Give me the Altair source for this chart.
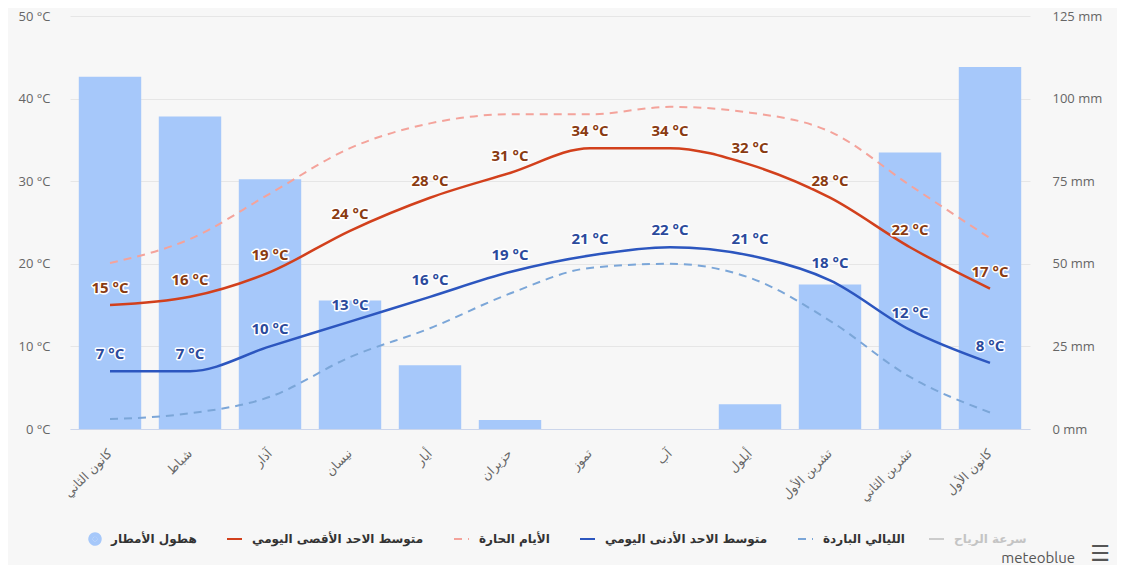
import altair as alt
import pandas as pd

# ---------------- data ----------------
months = ["كانون الثاني", "شباط", "آذار", "نيسان", "أيار", "حزيران",
          "تموز", "آب", "أيلول", "تشرين الأول", "تشرين الثاني", "كانون الأول"]
precip_mm = [106.6, 94.6, 75.6, 38.9, 19.3, 2.7, 0, 0, 7.5, 43.7, 83.7, 109.6]
max_temp = [15, 16, 19, 24, 28, 31, 34, 34, 32, 28, 22, 17]
min_temp = [7, 7, 10, 13, 16, 19, 21, 22, 21, 18, 12, 8]
hot_days = [20.1, 23.0, 28.5, 34.0, 37.0, 38.1, 38.1, 39.0, 38.3, 36.0, 29.5, 23.1]
cold_nights = [1.2, 1.9, 3.9, 8.7, 12.2, 16.4, 19.5, 20.0, 18.3, 13.1, 6.3, 2.0]

S_PRECIP = "هطول الأمطار"
S_MAX = "متوسط الاحد الأقصى اليومي"
S_HOT = "الأيام الحارة"
S_MIN = "متوسط الاحد الأدنى اليومي"
S_COLD = "الليالي الباردة"
S_WIND = "سرعة الرياح"

series_order = [S_PRECIP, S_MAX, S_HOT, S_MIN, S_COLD]
series_colors = ["#a6c8fa", "#d2401c", "#f4a39b", "#2c56bf", "#7ba6d8"]
series_dash = [[1, 0], [1, 0], [8, 6], [1, 0], [8, 6]]
legend_shapes = ["circle", "stroke", "stroke", "stroke", "stroke"]
legend_sizes = [20, 225, 225, 225, 225]
legend_widths = [9, 2, 2, 2, 2]
wind_color = "#cccccc"

# ---------------- tables ----------------
df_bars = pd.DataFrame({"month": months, "precip": precip_mm, "series": S_PRECIP})

rows = []
for name, vals in [(S_MAX, max_temp), (S_HOT, hot_days), (S_MIN, min_temp), (S_COLD, cold_nights)]:
    for m, v in zip(months, vals):
        rows.append({"month": m, "series": name, "value": v})
df_lines = pd.DataFrame(rows)

df_legend = pd.DataFrame({"series": pd.Series([], dtype=str)})

FONT = "Open Sans"
AR_FONT = "DejaVu Sans"

color_scale = alt.Scale(domain=series_order, range=series_colors)
dash_scale = alt.Scale(domain=series_order, range=series_dash)
y_temp_scale = alt.Scale(domain=[0, 50])

x_enc = alt.X(
    "month:N",
    sort=months,
    scale=alt.Scale(paddingInner=0.22, paddingOuter=0.11),
    axis=alt.Axis(
        title=None,
        labelAngle=-45,
        labelAlign="right",
        labelBaseline="middle",
        labelPadding=22,
        labelFont=AR_FONT,
        labelFontSize=12.5,
        labelColor="#666666",
        ticks=False,
        grid=False,
        domainColor="#ccd6eb",
        domainWidth=1,
    ),
)

# ---------------- bars (right axis) ----------------
bars = alt.Chart(df_bars).mark_bar(color=series_colors[0]).encode(
    x=x_enc,
    y=alt.Y(
        "precip:Q",
        scale=alt.Scale(domain=[0, 125]),
        axis=alt.Axis(
            orient="right",
            title=None,
            values=[0, 25, 50, 75, 100, 125],
            labelExpr="datum.value + ' mm'",
            grid=False,
            domain=False,
            ticks=False,
            labelPadding=22,
            labelFont=FONT,
            labelFontSize=13,
            labelColor="#666666",
        ),
    ),
    color=alt.Color("series:N", scale=color_scale),
)

# ---------------- temperature lines (left axis) ----------------
y_left = alt.Y(
    "value:Q",
    scale=y_temp_scale,
    axis=alt.Axis(
        title=None,
        values=[0, 10, 20, 30, 40, 50],
        labelExpr="datum.value + ' °C'",
        grid=True,
        gridColor="#e6e6e6",
        domain=False,
        ticks=False,
        labelPadding=20,
        labelFont=FONT,
        labelFontSize=13,
        labelColor="#666666",
    ),
)

solid = alt.Chart(df_lines).transform_filter(
    alt.FieldOneOfPredicate(field="series", oneOf=[S_MAX, S_MIN])
).mark_line(interpolate="monotone", strokeWidth=2.5).encode(
    x=x_enc,
    y=y_left,
    color=alt.Color("series:N", scale=color_scale),
)

dashed = alt.Chart(df_lines).transform_filter(
    alt.FieldOneOfPredicate(field="series", oneOf=[S_HOT, S_COLD])
).mark_line(interpolate="monotone", strokeWidth=2).encode(
    x=x_enc,
    y=y_left,
    color=alt.Color("series:N", scale=color_scale),
    strokeDash=alt.StrokeDash("series:N", scale=dash_scale),
)


def labels(series_name, color):
    base = alt.Chart(df_lines).transform_filter(
        alt.datum.series == series_name
    ).transform_calculate(label="datum.value + ' °C'")
    enc = dict(x=x_enc, y=y_left, text="label:N")
    halo = base.mark_text(dy=-17, font=FONT, fontSize=15, fontWeight="bold",
                          stroke="white", strokeWidth=3, strokeJoin="round",
                          fill="white").encode(**enc)
    txt = base.mark_text(dy=-17, font=FONT, fontSize=15, fontWeight="bold",
                         fill=color).encode(**enc)
    return halo + txt


max_labels = labels(S_MAX, "#8a3b12")
min_labels = labels(S_MIN, "#2b4a9c")

temps = alt.layer(dashed, solid, max_labels, min_labels)

# ---------------- legends (no marks, legend only) ----------------
legend_common = dict(
    title=None,
    orient="none",
    legendY=515,
    direction="horizontal",
    columnPadding=29,
    labelOffset=9,
    labelFont=AR_FONT,
    labelFontSize=12,
    labelFontWeight="bold",
    labelLimit=400,
    symbolOpacity=1,
    clipHeight=16,
)
legend = alt.Legend(legendX=18, labelColor="#333333", **legend_common)
legend_layer = alt.Chart(df_legend).mark_point(filled=False, opacity=1).encode(
    color=alt.Color("series:N", scale=color_scale, legend=legend),
    shape=alt.Shape("series:N", scale=alt.Scale(domain=series_order, range=legend_shapes), legend=legend),
    size=alt.Size("series:N", scale=alt.Scale(type="ordinal", domain=series_order, range=legend_sizes), legend=legend),
    strokeWidth=alt.StrokeWidth("series:N", scale=alt.Scale(type="ordinal", domain=series_order, range=legend_widths), legend=legend),
    strokeDash=alt.StrokeDash("series:N", scale=dash_scale, legend=legend),
)

wind_legend = alt.Legend(legendX=858, labelColor="#c4c4c4", symbolType="stroke",
                         symbolSize=225, symbolStrokeWidth=2, **legend_common)
wind_layer = alt.Chart(df_legend).mark_line(opacity=1).encode(
    stroke=alt.Stroke("series:N", scale=alt.Scale(domain=[S_WIND], range=[wind_color]),
                      legend=wind_legend),
)

# ---------------- credit ----------------
credit_df = pd.DataFrame({"t": ["meteoblue"], "m": ["☰"]})
credit = alt.Chart(credit_df).mark_text(
    font="Ubuntu, Roboto", fontSize=15, color="#555555", align="right", baseline="middle"
).encode(text="t:N", x=alt.value(1005), y=alt.value(542))
menu = alt.Chart(credit_df).mark_text(
    font=AR_FONT, fontSize=22, color="#555555", align="center", baseline="middle"
).encode(text="m:N", x=alt.value(1030), y=alt.value(538))

chart = alt.layer(legend_layer, bars, temps, wind_layer, credit, menu).resolve_scale(
    y="independent"
).properties(
    width=960,
    height=413,
    padding={"left": 62, "top": 8, "right": 87, "bottom": 136},
    autosize=alt.AutoSizeParams(type="none"),
    background="#f7f7f7",
).configure_view(stroke=None)

chart.save("out.html", embed_options={"renderer": "svg", "actions": False})
